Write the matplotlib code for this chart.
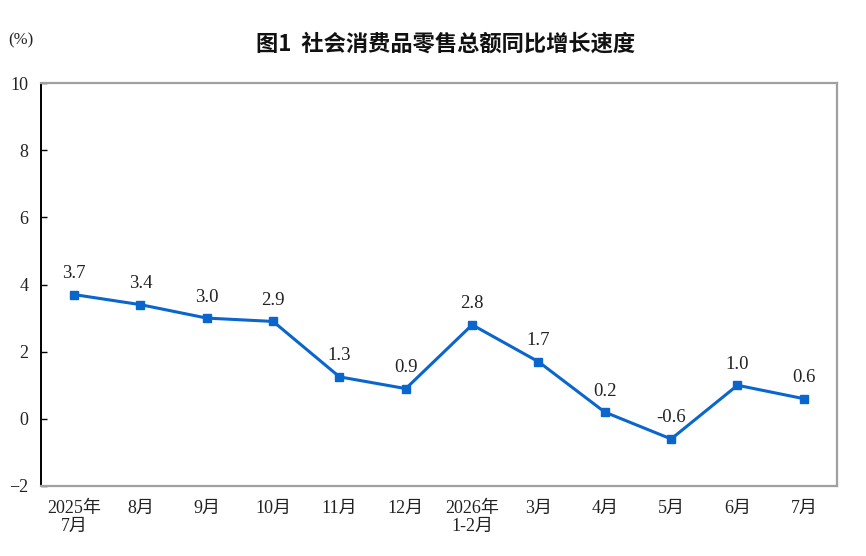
import matplotlib
matplotlib.use('Agg')
import matplotlib.pyplot as plt

plt.rcParams['font.family'] = ['Liberation Serif', 'Noto Sans CJK SC']

# data
months = ['2025年\n7月', '8月', '9月', '10月', '11月', '12月',
          '2026年\n1-2月', '3月', '4月', '5月', '6月', '7月']
growth = [3.7, 3.4, 3.0, 2.9, 1.25, 0.9, 2.8, 1.7, 0.2, -0.6, 1.0, 0.6]
labels = ['3.7', '3.4', '3.0', '2.9', '1.3', '0.9', '2.8', '1.7', '0.2', '-0.6', '1.0', '0.6']
yticks = [-2, 0, 2, 4, 6, 8, 10]

fig = plt.figure(figsize=(8.66, 5.56), dpi=100)
ax = fig.add_axes([0.0473, 0.1259, 0.9192, 0.7248])

x = list(range(len(months)))
ax.plot(x, growth, color='#0a66cc', linewidth=2.2, marker='s', markersize=6)

for xi, yi, lab in zip(x, growth, labels):
    ax.annotate(lab, (xi, yi), xytext=(0, 9), textcoords='offset points',
                ha='center', va='bottom', fontsize=13.5, color='#222222')

ax.set_xlim(-0.5, len(months) - 0.5)
ax.set_ylim(-2, 10)
ax.set_yticks(yticks)
ax.set_xticks(x)
ax.set_xticklabels(months, fontsize=13, color='#222222', linespacing=1.05)
ax.tick_params(axis='y', direction='in', length=4, width=1, pad=9,
               labelsize=13, labelcolor='#222222')
ax.tick_params(axis='x', length=0, pad=10)

ax.spines['left'].set_color('black')
ax.spines['left'].set_linewidth(1.4)
for s in ['top', 'right', 'bottom']:
    ax.spines[s].set_color('#a0a0a0')
    ax.spines[s].set_linewidth(1.6)

fig.text(0.515, 0.92, '图1  社会消费品零售总额同比增长速度', ha='center', va='center',
         fontsize=16, fontweight='bold', family=['Noto Sans CJK SC'], color='#111111')
fig.text(0.009, 0.928, '(%)', ha='left', va='center', fontsize=12, color='#222222')

fig.savefig('out.png', dpi=100)
